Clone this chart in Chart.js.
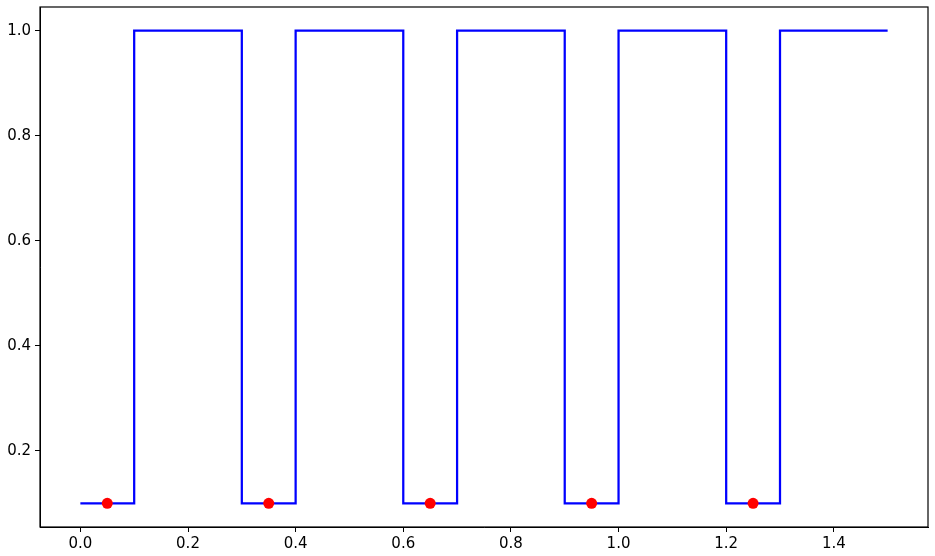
<!DOCTYPE html>
<html>
<head>
<meta charset="utf-8">
<script src="https://cdn.jsdelivr.net/npm/chart.js@4/dist/chart.umd.min.js"></script>
<style>
    html, body { margin: 0; padding: 0; background: #fff; }
    #wrap { width: 935px; height: 556px; }
</style>
</head>
<body>
<div id="wrap"><canvas id="stepChart" width="935" height="556"></canvas></div>
<script>
// step edges of the signal (value holds until the next x)
const stepX = [0.0, 0.1, 0.3, 0.4, 0.6, 0.7, 0.9, 1.0, 1.2, 1.3, 1.5];
const stepY = [0.1, 1.0, 0.1, 1.0, 0.1, 1.0, 0.1, 1.0, 0.1, 1.0, 1.0];

// red sample points
const dotX = [0.05, 0.35, 0.65, 0.95, 1.25];
const dotY = [0.1, 0.1, 0.1, 0.1, 0.1];

const xTicks = [0.0, 0.2, 0.4, 0.6, 0.8, 1.0, 1.2, 1.4];
const yTicks = [0.2, 0.4, 0.6, 0.8, 1.0];

// box around the plot area, like matplotlib spines
const frame = {
    id: 'frame',
    afterDraw(chart) {
        const a = chart.chartArea;
        const ctx = chart.ctx;
        ctx.save();
        ctx.strokeStyle = '#000';
        ctx.lineWidth = 1.2;
        ctx.strokeRect(a.left, a.top, a.right - a.left, a.bottom - a.top);
        ctx.restore();
    }
};

const tickFont = { family: 'DejaVu Sans', size: 15 };

new Chart(document.getElementById('stepChart').getContext('2d'), {
    type: 'line',
    data: {
        datasets: [
            {
                data: stepX.map((x, i) => ({ x: x, y: stepY[i] })),
                borderColor: '#0000ff',
                borderWidth: 2.25,
                stepped: 'before',
                pointRadius: 0,
                fill: false,
                order: 2
            },
            {
                type: 'scatter',
                data: dotX.map((x, i) => ({ x: x, y: dotY[i] })),
                pointBackgroundColor: '#ff0000',
                pointBorderColor: '#ff0000',
                pointBorderWidth: 0,
                pointRadius: 5.5,
                showLine: false,
                order: 1
            }
        ]
    },
    options: {
        responsive: false,
        animation: false,
        layout: { padding: { left: 0, top: 7, right: 7, bottom: 0 } },
        plugins: {
            legend: { display: false },
            tooltip: { enabled: false }
        },
        scales: {
            x: {
                type: 'linear',
                min: -0.075,
                max: 1.575,
                afterBuildTicks: s => { s.ticks = xTicks.map(v => ({ value: v })); },
                afterFit: s => { s.height = 29; s.paddingLeft = 0; s.paddingRight = 0; },
                grid: { drawOnChartArea: false, drawTicks: true, tickLength: 5, color: '#000', tickWidth: 1 },
                border: { display: true, color: '#000', width: 1 },
                ticks: {
                    color: '#000',
                    font: tickFont,
                    padding: 3,
                    maxRotation: 0,
                    autoSkip: false,
                    callback: v => v.toFixed(1)
                }
            },
            y: {
                type: 'linear',
                min: 0.055,
                max: 1.045,
                afterBuildTicks: s => { s.ticks = yTicks.map(v => ({ value: v })); },
                afterFit: s => { s.width = 40; s.paddingTop = 0; s.paddingBottom = 0; },
                grid: { drawOnChartArea: false, drawTicks: true, tickLength: 5, color: '#000', tickWidth: 1 },
                border: { display: true, color: '#000', width: 1 },
                ticks: {
                    color: '#000',
                    font: tickFont,
                    padding: 4,
                    autoSkip: false,
                    callback: v => v.toFixed(1)
                }
            }
        }
    },
    plugins: [frame]
});
</script>
</body>
</html>
